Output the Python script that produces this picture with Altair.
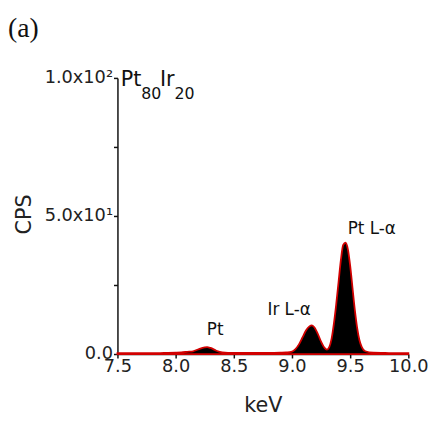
import altair as alt
import pandas as pd

# Spectrum
energy = [7.5, 7.6, 7.7, 7.8, 7.9, 8.0, 8.05, 8.1, 8.15, 8.2, 8.25, 8.27, 8.3, 8.35, 8.4,
          8.5, 8.6, 8.7, 8.8, 8.9, 8.95, 9.0, 9.03, 9.06, 9.09, 9.12, 9.15, 9.17, 9.19,
          9.22, 9.25, 9.28, 9.3, 9.32, 9.34, 9.36, 9.38, 9.40, 9.42, 9.44, 9.46, 9.48,
          9.50, 9.52, 9.54, 9.56, 9.58, 9.60, 9.63, 9.7, 9.8, 9.9, 10.0]
cps = [0.3, 0.3, 0.3, 0.3, 0.4, 0.5, 0.6, 0.8, 1.0, 1.8, 2.4, 2.5, 2.2, 1.2, 0.6,
       0.4, 0.4, 0.4, 0.4, 0.5, 0.6, 0.9, 1.8, 3.5, 6.0, 8.5, 10.0, 10.4, 9.8,
       7.5, 4.5, 2.2, 1.6, 2.5, 5.5, 11.0, 18.0, 26.0, 34.0, 39.5, 40.3, 38.0,
       32.0, 24.0, 16.0, 9.5, 5.0, 2.5, 1.0, 0.5, 0.4, 0.3, 0.3]

# Peak annotations
peak_text = ["Pt", "Ir L-\u03b1", "Pt L-\u03b1"]
peak_x = [8.34, 8.975, 9.686]
peak_y = [8.5, 16.0, 45.4]

# Composition label Pt80Ir20 (pieces with subscripts)
comp_text = ["Pt", "80", "Ir", "20"]
comp_x = [7.528, 7.705, 7.865, 7.99]
comp_y = [97.1, 92.5, 97.1, 92.5]
comp_size = [21, 16, 21, 16]

panel_text = ["(a)"]
panel_x = [6.56]
panel_y = [115.0]

x_ticks = [7.5, 7.75, 8.0, 8.25, 8.5, 8.75, 9.0, 9.25, 9.5, 9.75, 10.0]
y_ticks = [0, 25, 50, 75, 100]

df = pd.DataFrame({"keV": energy, "CPS": cps})
peaks = pd.DataFrame({"t": peak_text, "x": peak_x, "y": peak_y})
comp = pd.DataFrame({"t": comp_text, "x": comp_x, "y": comp_y, "s": comp_size})
panel = pd.DataFrame({"t": panel_text, "x": panel_x, "y": panel_y})

FONT = "DejaVu Sans"
xscale = alt.Scale(domain=[7.5, 10.0], nice=False, zero=False)
yscale = alt.Scale(domain=[0, 100], nice=False)

xaxis = alt.Axis(
    values=x_ticks,
    labelExpr="(round(datum.value*4) % 2 == 0) ? format(datum.value, '.1f') : ''",
    labelOverlap=False, labelFlush=False, grid=False,
    tickSize=4, tickWidth=1.5, domainWidth=1.5, domainColor="#111", tickColor="#111",
    labelFont=FONT, labelFontSize=18, labelColor="#222", labelPadding=0,
    title="keV", titleFont=FONT, titleFontSize=21, titleFontWeight="normal",
    titleColor="#222", titlePadding=19,
)
yaxis = alt.Axis(
    values=y_ticks,
    labelExpr="datum.value == 0 ? '0.0' : (datum.value == 50 ? '5.0x10\u00b9' : (datum.value == 100 ? '1.0x10\u00b2' : ''))",
    labelOverlap=False, labelFlush=False, grid=False,
    tickSize=4, tickWidth=1.5, domainWidth=1.5, domainColor="#111", tickColor="#111",
    labelFont=FONT, labelFontSize=18, labelColor="#222", labelPadding=1,
    title="CPS", titleFont=FONT, titleFontSize=21, titleFontWeight="normal",
    titleColor="#222", titleX=-94, titleY=138, titleAngle=270,
    titleAlign="center", titleBaseline="middle",
)

area = alt.Chart(df).mark_area(
    color="black", stroke="#d10000", strokeWidth=1.8, interpolate="monotone"
).encode(
    x=alt.X("keV:Q", scale=xscale, axis=xaxis),
    y=alt.Y("CPS:Q", scale=yscale, axis=yaxis),
)

peak_labels = alt.Chart(peaks).mark_text(
    font=FONT, fontSize=17, color="#111", baseline="middle", align="center"
).encode(x=alt.X("x:Q", scale=xscale), y=alt.Y("y:Q", scale=yscale), text="t:N")

comp_labels = alt.Chart(comp).mark_text(
    font=FONT, color="#111", baseline="alphabetic", align="left"
).encode(
    x=alt.X("x:Q", scale=xscale), y=alt.Y("y:Q", scale=yscale), text="t:N",
    size=alt.Size("s:Q", scale=None, legend=None),
)

panel_label = alt.Chart(panel).mark_text(
    font="Liberation Serif", fontSize=28, color="#111", baseline="alphabetic", align="left"
).encode(x=alt.X("x:Q", scale=xscale), y=alt.Y("y:Q", scale=yscale), text="t:N")

chart = alt.layer(area, peak_labels, comp_labels, panel_label).properties(
    width=295, height=280,
    autosize=alt.AutoSizeParams(type="none"),
    padding={"left": 111, "top": 68, "right": 25, "bottom": 64},
).configure_view(stroke=None)

chart.save("out.html", embed_options={"renderer": "svg", "actions": False})
